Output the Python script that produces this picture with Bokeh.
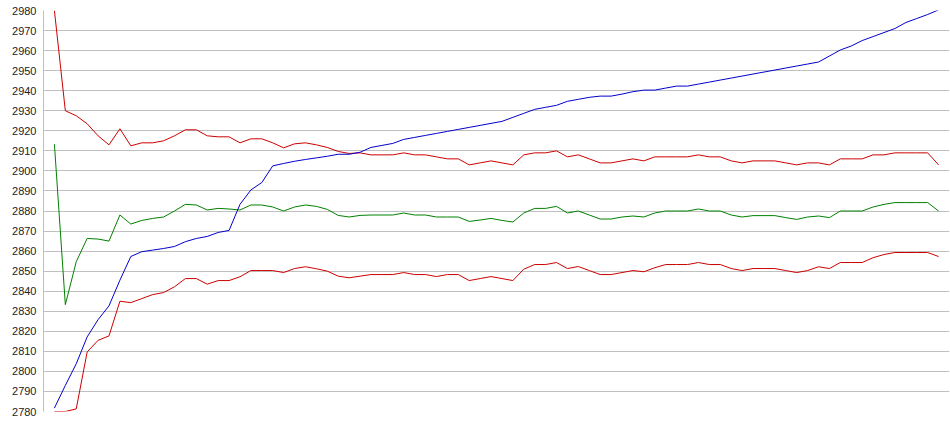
from bokeh.plotting import figure
from bokeh.models import Range1d, FixedTicker
from bokeh.embed import file_html
from bokeh.resources import INLINE

upper = [2980, 2930, 2927.5, 2923.5, 2917.5, 2913, 2921, 2912.5, 2914, 2914,
         2915, 2917.5, 2920.5, 2920.5, 2917.5, 2917, 2917, 2914, 2916, 2916,
         2914, 2911.5, 2913.5, 2914, 2913, 2911.7, 2909.7, 2908.7, 2909, 2908,
         2908, 2908, 2909, 2908, 2908, 2907, 2906, 2906, 2903, 2904,
         2905, 2904, 2903, 2908, 2909, 2909, 2910, 2907, 2908, 2906,
         2904, 2904, 2905, 2906, 2905, 2907, 2907, 2907, 2907, 2908,
         2907, 2907, 2905, 2904, 2905, 2905, 2905, 2904, 2903, 2904,
         2904, 2903, 2906, 2906, 2906, 2908, 2908, 2909, 2909, 2909,
         2909, 2903]

middle = [2913.3, 2833.3, 2854.7, 2866.3, 2866, 2865, 2878, 2873.5, 2875.3, 2876.3,
          2877, 2880, 2883.3, 2883, 2880.5, 2881.3, 2881, 2880.5, 2883, 2883,
          2882, 2880, 2882, 2883, 2882.3, 2880.8, 2877.8, 2877, 2877.8, 2878,
          2878, 2878, 2879, 2878, 2878, 2877, 2877, 2877, 2874.8, 2875.5,
          2876.3, 2875.3, 2874.5, 2879, 2881.3, 2881.3, 2882.3, 2879, 2880, 2878,
          2876, 2876, 2877, 2877.5, 2877, 2879, 2880, 2880, 2880, 2881,
          2880, 2880, 2878, 2877, 2877.7, 2877.7, 2877.7, 2876.7, 2875.8, 2877,
          2877.5, 2876.7, 2880, 2880, 2880, 2882, 2883.3, 2884.2, 2884.2, 2884.2,
          2884.2, 2880]

lower = [2780, 2780, 2781.3, 2809.7, 2815.5, 2817.7, 2835, 2834.3, 2836.3, 2838.3,
         2839.3, 2842.2, 2846.3, 2846.3, 2843.5, 2845.3, 2845.3, 2847.2, 2850.3, 2850.3,
         2850.3, 2849.3, 2851.3, 2852.2, 2851.2, 2850, 2847.5, 2846.7, 2847.5, 2848.3,
         2848.3, 2848.3, 2849.3, 2848.3, 2848.3, 2847.3, 2848.3, 2848.3, 2845.3, 2846.3,
         2847.3, 2846.3, 2845.3, 2851, 2853.3, 2853.3, 2854.3, 2851.3, 2852.3, 2850.3,
         2848.3, 2848.3, 2849.3, 2850.3, 2849.7, 2851.7, 2853.3, 2853.3, 2853.3, 2854.3,
         2853.3, 2853.3, 2851.3, 2850.3, 2851.3, 2851.3, 2851.3, 2850.3, 2849.3, 2850.3,
         2852.2, 2851.3, 2854.3, 2854.3, 2854.3, 2856.7, 2858.3, 2859.3, 2859.3, 2859.3,
         2859.3, 2857.3]

trend = [2781.7, 2793, 2803.8, 2817.2, 2825.8, 2832.7, 2845.5, 2857.3, 2859.7, 2860.5,
         2861.3, 2862.3, 2864.7, 2866.3, 2867.3, 2869.3, 2870.3, 2883.3, 2890.5, 2894.2,
         2902.5, 2903.7, 2904.8, 2905.7, 2906.5, 2907.3, 2908.3, 2908.3, 2909.3, 2911.7,
         2912.7, 2913.7, 2915.7, 2916.7, 2917.7, 2918.7, 2919.7, 2920.7, 2921.7, 2922.7,
         2923.7, 2924.7, 2926.7, 2928.7, 2930.7, 2931.7, 2932.7, 2934.7, 2935.7, 2936.7,
         2937.3, 2937.3, 2938.3, 2939.5, 2940.3, 2940.3, 2941.3, 2942.3, 2942.3, 2943.3,
         2944.3, 2945.3, 2946.3, 2947.3, 2948.3, 2949.3, 2950.3, 2951.3, 2952.3, 2953.3,
         2954.3, 2957.3, 2960.3, 2962.3, 2965, 2967, 2969, 2971, 2974, 2976,
         2978, 2980.3]

y_ticks = list(range(2780, 2981, 10))
x = list(range(len(upper)))

p = figure(width=950, height=435, output_backend="svg", toolbar_location=None,
           x_range=Range1d(-1, 82), y_range=Range1d(2780, 2980),
           min_border_left=43, min_border_right=1, min_border_top=10, min_border_bottom=24)
p.outline_line_color = None
p.background_fill_color = "white"
p.border_fill_color = "white"

p.xaxis.visible = False
p.xgrid.visible = False
p.yaxis.ticker = FixedTicker(ticks=y_ticks)
p.yaxis.minor_tick_line_color = None
p.yaxis.major_tick_in = 0
p.yaxis.major_tick_out = 0
p.yaxis.major_label_standoff = 7
p.yaxis.axis_line_color = "#c0c0c0"
p.yaxis.major_label_text_font = "Liberation Sans"
p.yaxis.major_label_text_font_size = "11px"
p.yaxis.major_label_text_color = "#222222"
p.ygrid.grid_line_color = "#c0c0c0"
p.ygrid.grid_line_width = 1

p.line(x, upper, line_color="#cc0000", line_width=1)
p.line(x, middle, line_color="#008000", line_width=1)
p.line(x, lower, line_color="#cc0000", line_width=1)
p.line(x, trend, line_color="#0000cc", line_width=1)

open("out.html", "w").write(file_html(p, INLINE))
